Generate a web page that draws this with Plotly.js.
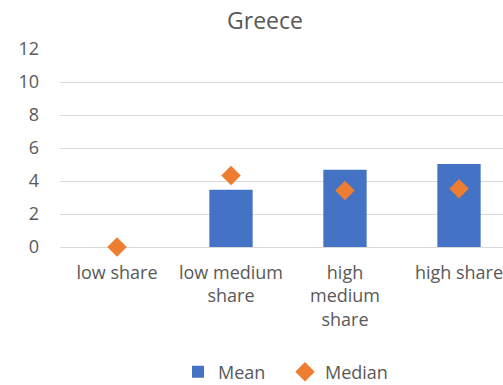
<!DOCTYPE html>
<html>
<head>
<meta charset="utf-8">
<script src="https://cdn.plot.ly/plotly-3.0.1.min.js"></script>
<style>
  html, body { margin: 0; padding: 0; overflow: hidden; background: #fff; }
  #chart { width: 530px; height: 385px; }
</style>
</head>
<body>
<div id="chart"></div>
<script>
// Share groups and their statistics for Greece
const categories = ["low share", "low medium share", "high medium share", "high share"];
const tickLabels = ["low share", "low medium<br>share", "high<br>medium<br>share", "high share"];
const meanValues = [0, 3.47, 4.68, 5.03];
const medianValues = [0, 4.34, 3.43, 3.53];

const textColor = "#595959";
const fontFamily = "'Open Sans', 'Segoe UI', sans-serif";

const traces = [
  {
    type: "bar",
    name: "Mean",
    x: categories,
    y: meanValues,
    width: 0.38,
    marker: { color: "#4472C4" }
  },
  {
    type: "scatter",
    mode: "markers",
    name: "Median",
    x: categories,
    y: medianValues,
    marker: { symbol: "diamond", size: 15, color: "#ED7D31" },
    cliponaxis: false
  }
];

const layout = {
  width: 530,
  height: 385,
  margin: { l: 60, r: 14, t: 49, b: 138, autoexpand: false },
  paper_bgcolor: "#ffffff",
  plot_bgcolor: "#ffffff",
  font: { family: fontFamily, size: 18, color: textColor },
  title: {
    text: "Greece",
    x: 0.5,
    xanchor: "center",
    xref: "container",
    y: 1 - 21 / 385,
    yref: "container",
    yanchor: "middle",
    font: { family: fontFamily, size: 23, color: textColor }
  },
  xaxis: {
    type: "category",
    tickvals: categories,
    ticktext: tickLabels,
    showgrid: false,
    zeroline: false,
    showline: false,
    ticks: "",
    automargin: false,
    ticklabelstandoff: 13,
    tickfont: { size: 18, color: textColor }
  },
  yaxis: {
    range: [0, 12],
    dtick: 2,
    showgrid: true,
    gridcolor: "#d9d9d9",
    gridwidth: 1,
    zeroline: true,
    zerolinecolor: "#d9d9d9",
    zerolinewidth: 1,
    showline: false,
    ticks: "",
    automargin: false,
    ticklabelstandoff: 20,
    tickfont: { size: 18, color: textColor }
  },
  showlegend: true,
  legend: {
    orientation: "h",
    xref: "container",
    x: 178 / 530,
    xanchor: "left",
    yref: "container",
    y: 1 - 372 / 385,
    yanchor: "middle",
    font: { size: 18, color: textColor },
    entrywidth: 62,
    entrywidthmode: "pixels"
  },
  bargap: 0.62
};

Plotly.newPlot("chart", traces, layout, { displayModeBar: false, staticPlot: true });
</script>
</body>
</html>
